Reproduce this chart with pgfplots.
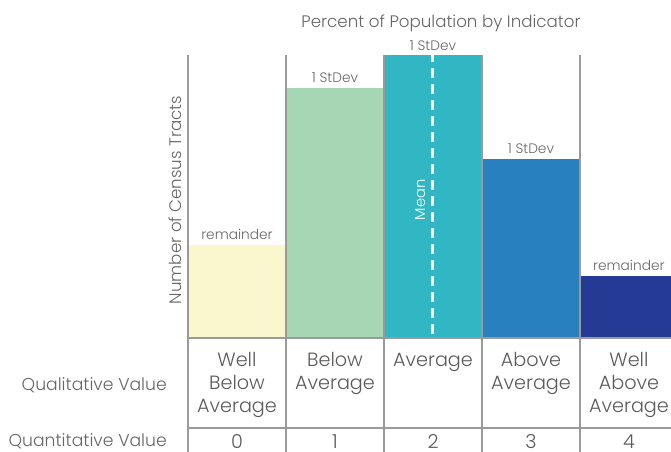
\documentclass[border=0pt]{standalone}
\usepackage{pgfplots}
\pgfplotsset{compat=1.18}
\usepackage{fontspec}
\setmainfont{Poppins}[UprightFont={* Light}]
\definecolor{c0}{HTML}{FAF7CE}
\definecolor{c1}{HTML}{A6D6B3}
\definecolor{c2}{HTML}{31B7C4}
\definecolor{c3}{HTML}{2880BF}
\definecolor{c4}{HTML}{253A94}
\definecolor{gridc}{HTML}{9A9A9A}
\definecolor{txt}{HTML}{666666}
\definecolor{tbl}{HTML}{5A5A5A}
\begin{document}
\begin{tikzpicture}
\begin{axis}[at={(141pt,85.5pt)}, anchor=south west, scale only axis,
  width=362.25pt, height=212.25pt, xmin=-0.5, xmax=4.43, ymin=0, ymax=283,
  hide axis, ybar, bar width=1, bar shift=0pt, clip mode=individual]
\addplot[fill=c0, draw=none] coordinates {(0,93)};
\addplot[fill=c1, draw=none] coordinates {(1,250)};
\addplot[fill=c2, draw=none] coordinates {(2,283)};
\addplot[fill=c3, draw=none] coordinates {(3,179)};
\addplot[fill=c4, draw=none] coordinates {(4,62)};
\draw[gridc, line width=1pt] (axis cs:-0.5,0) -- (axis cs:-0.5,283);
\draw[gridc, line width=1pt] (axis cs:0.5,0) -- (axis cs:0.5,283);
\draw[gridc, line width=1pt] (axis cs:1.5,0) -- (axis cs:1.5,283);
\draw[gridc, line width=1pt] (axis cs:2.5,0) -- (axis cs:2.5,283);
\draw[gridc, line width=1pt] (axis cs:3.5,0) -- (axis cs:3.5,283);
\draw[white, line width=2.2pt, dash pattern=on 7.5pt off 4.5pt, dash phase=2pt] (axis cs:2,283) -- (axis cs:2,0);
\node[white, rotate=90, font=\fontsize{11}{12}\selectfont] at (axis cs:1.868,138) {Mean};
\node[txt, anchor=base, inner sep=0pt, font=\fontsize{10.3}{11}\selectfont] at (axis cs:0,98) {remainder};
\node[txt, anchor=base, inner sep=0pt, font=\fontsize{10.3}{11}\selectfont] at (axis cs:1,255) {1 StDev};
\node[txt, anchor=base, inner sep=0pt, font=\fontsize{10.3}{11}\selectfont] at (axis cs:2,287) {1 StDev};
\node[txt, anchor=base, inner sep=0pt, font=\fontsize{10.3}{11}\selectfont] at (axis cs:3,184) {1 StDev};
\node[txt, anchor=base, inner sep=0pt, font=\fontsize{10.3}{11}\selectfont] at (axis cs:4,67) {remainder};
\end{axis}
\begin{scope}[x=0.75pt, y=0.75pt]
% title and y label
\node[txt, anchor=base, inner sep=0pt, font=\fontsize{12.5}{14}\selectfont] at (441,424) {Percent of Population by Indicator};
\node[txt, rotate=90, inner sep=0pt, font=\fontsize{12.5}{14}\selectfont] at (175,252) {Number of Census Tracts};
% table lines
\draw[gridc, line width=1pt] (187.5,114) -- (671,114);
\draw[gridc, line width=1pt] (187.5,24) -- (671,24);
\foreach \xx in {188,286,384,482,580} \draw[gridc, line width=1pt] (\xx,0) -- (\xx,114);
% row labels
\node[txt, anchor=base east, inner sep=0pt, font=\fontsize{12.9}{14}\selectfont] at (167,61) {Qualitative Value};
\node[txt, anchor=base east, inner sep=0pt, font=\fontsize{12.9}{14}\selectfont] at (167,5) {Quantitative Value};
% qualitative values
\tikzset{tt/.style={tbl, anchor=base, inner sep=0pt, font=\fontsize{14.4}{16}\selectfont}}
\node[tt] at (237,85) {Well};
\node[tt] at (237,62) {Below};
\node[tt] at (237,39) {Average};
\node[tt] at (335,85) {Below};
\node[tt] at (335,62) {Average};
\node[tt] at (433,85) {Average};
\node[tt] at (531,85) {Above};
\node[tt] at (531,62) {Average};
\node[tt] at (629,85) {Well};
\node[tt] at (629,62) {Above};
\node[tt] at (629,39) {Average};
% quantitative values
\node[tt] at (237,3.5) {0};
\node[tt] at (335,3.5) {1};
\node[tt] at (433,3.5) {2};
\node[tt] at (531,3.5) {3};
\node[tt] at (629,3.5) {4};
\end{scope}
\pgfresetboundingbox
\path (0,0) rectangle (503.25pt,339pt);
\end{tikzpicture}
\end{document}
